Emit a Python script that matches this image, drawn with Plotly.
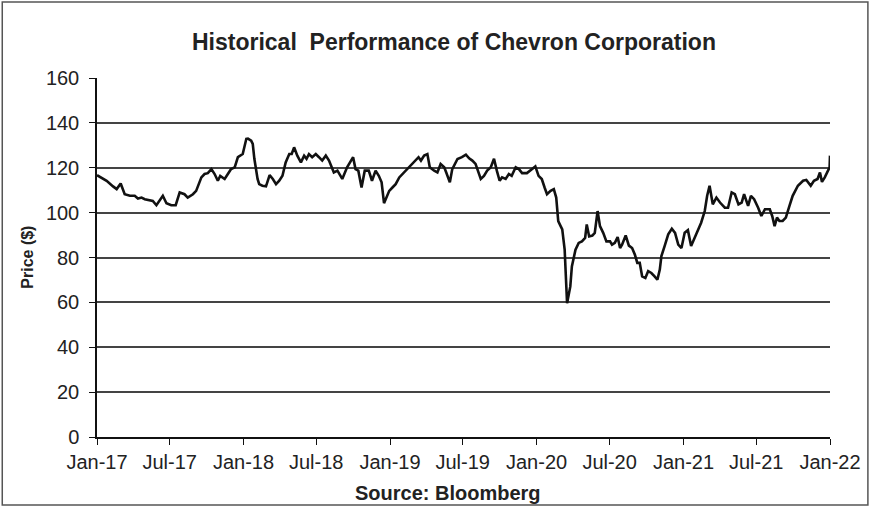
import plotly.graph_objects as go

dates = [
    "2017-01-01","2017-01-25","2017-02-10","2017-02-19","2017-03-01","2017-03-11","2017-03-24","2017-04-05",
    "2017-04-13","2017-04-22","2017-04-30","2017-05-12","2017-05-20","2017-05-29","2017-06-08","2017-06-14",
    "2017-06-23","2017-07-05","2017-07-16","2017-07-26","2017-08-07","2017-08-15","2017-08-28","2017-09-05",
    "2017-09-18","2017-09-26","2017-10-04","2017-10-13","2017-10-21","2017-10-29","2017-11-04","2017-11-15",
    "2017-11-23","2017-12-01","2017-12-10","2017-12-18","2017-12-30","2018-01-08","2018-01-12","2018-01-20",
    "2018-01-24","2018-01-28","2018-02-05","2018-02-09","2018-02-17","2018-02-26","2018-03-07","2018-03-15",
    "2018-03-23","2018-03-31","2018-04-08","2018-04-16","2018-04-25","2018-05-01","2018-05-07","2018-05-15",
    "2018-05-24","2018-06-01","2018-06-07","2018-06-13","2018-06-21","2018-06-30","2018-07-08","2018-07-16",
    "2018-07-25","2018-08-02","2018-08-14","2018-08-23","2018-09-04","2018-09-16","2018-10-01","2018-10-07",
    "2018-10-14","2018-10-22","2018-10-30","2018-11-09","2018-11-17","2018-11-26","2018-12-04","2018-12-11",
    "2018-12-17","2018-12-23","2018-12-30","2019-01-07","2019-01-15","2019-01-24","2019-02-01","2019-02-08",
    "2019-02-18","2019-03-02","2019-03-13","2019-03-19","2019-03-27","2019-04-04","2019-04-10","2019-04-21",
    "2019-04-29","2019-05-07","2019-05-16","2019-05-21","2019-05-30","2019-06-05","2019-06-18","2019-06-29",
    "2019-07-09","2019-07-17","2019-07-25","2019-08-02","2019-08-15","2019-08-23","2019-08-31","2019-09-09",
    "2019-09-17","2019-09-24","2019-10-01","2019-10-07","2019-10-16","2019-10-24","2019-10-31","2019-11-10",
    "2019-11-18","2019-11-26","2019-12-08","2019-12-21","2019-12-29","2020-01-06","2020-01-14","2020-01-21",
    "2020-01-27","2020-02-05","2020-02-13","2020-02-19","2020-02-24","2020-03-01","2020-03-05","2020-03-11",
    "2020-03-17","2020-03-25","2020-03-29","2020-04-07","2020-04-15","2020-04-23","2020-05-01","2020-05-05",
    "2020-05-11","2020-05-19","2020-05-25","2020-06-01","2020-06-07","2020-06-15","2020-06-23","2020-07-02",
    "2020-07-07","2020-07-14","2020-07-21","2020-07-27","2020-08-01","2020-08-10","2020-08-18","2020-08-26",
    "2020-09-02","2020-09-08","2020-09-14","2020-09-20","2020-09-28","2020-10-05","2020-10-13","2020-10-21",
    "2020-10-28","2020-11-03","2020-11-07","2020-11-15","2020-11-24","2020-12-03","2020-12-11","2020-12-19",
    "2020-12-27","2021-01-04","2021-01-12","2021-01-20","2021-01-29","2021-02-06","2021-02-14","2021-02-23",
    "2021-03-01","2021-03-07","2021-03-15","2021-03-24","2021-04-02","2021-04-14","2021-04-22","2021-05-01",
    "2021-05-09","2021-05-18","2021-05-26","2021-06-01","2021-06-11","2021-06-18","2021-06-26","2021-07-06",
    "2021-07-14","2021-07-23","2021-08-04","2021-08-10","2021-08-16","2021-08-22","2021-08-28","2021-09-05",
    "2021-09-13","2021-09-22","2021-09-30","2021-10-13","2021-10-26","2021-11-03","2021-11-14","2021-11-22",
    "2021-12-01","2021-12-07","2021-12-12","2021-12-19","2021-12-25","2021-12-31","2022-01-01",
]

prices = [
    116.7,114.2,111.7,110.5,113.0,108.2,107.5,107.5,
    106.3,106.7,106.0,105.7,105.2,103.3,106.0,107.5,
    104.2,103.3,103.3,109.0,108.2,106.7,108.2,109.7,
    115.7,117.2,117.6,119.4,117.2,114.2,116.4,115.0,
    117.2,119.4,120.2,124.7,126.1,132.9,133.0,132.1,
    130.6,124.0,115.0,112.7,112.0,111.7,116.7,115.0,
    112.7,114.2,116.4,122.4,126.1,126.1,129.1,125.4,
    122.4,125.4,124.0,126.1,124.7,126.1,124.7,123.2,
    125.4,123.2,117.9,118.7,115.0,120.2,124.7,119.4,
    118.7,111.2,118.7,118.7,114.2,118.7,116.4,113.5,
    104.2,106.7,109.7,111.2,112.7,115.7,117.2,118.7,
    120.2,122.4,124.7,123.2,125.4,126.1,120.2,118.7,
    117.9,121.7,120.2,117.9,113.5,119.4,123.9,124.7,
    125.8,124.2,123.2,121.7,115.0,116.4,118.7,120.2,
    124.0,118.7,114.2,115.7,115.0,117.2,116.4,120.2,
    119.4,117.6,117.6,119.4,120.6,116.4,115.0,111.2,
    108.2,109.7,110.5,106.7,96.2,94.0,92.5,83.5,
    59.6,67.0,76.0,83.5,86.5,87.2,88.7,94.7,
    89.4,89.8,91.0,100.7,94.0,91.0,87.2,87.2,
    85.7,86.5,89.1,84.2,85.7,89.8,85.3,84.2,
    81.2,77.6,77.6,71.6,70.9,73.9,73.1,71.6,
    70.1,74.6,80.6,85.1,90.3,92.8,91.0,85.7,
    84.2,91.0,92.2,85.1,88.8,92.5,95.5,100.7,
    107.5,112.0,103.7,106.7,104.5,102.2,102.2,109.0,
    108.2,103.7,104.5,108.2,103.0,107.5,106.0,102.2,
    98.5,101.5,101.5,98.5,94.0,97.8,96.3,96.3,
    97.8,103.0,107.5,112.0,114.2,114.6,112.0,114.2,
    115.0,117.9,113.7,115.7,117.9,120.2,125.4,
]

title_text = "Historical  Performance of Chevron Corporation"
y_title = "Price ($)"
source_text = "Source: Bloomberg"
y_ticks = [0, 20, 40, 60, 80, 100, 120, 140, 160]

FONT = "Liberation Sans, Arial, sans-serif"
TXT = "#222222"

fig = go.Figure()
fig.add_trace(go.Scatter(
    x=dates, y=prices, mode="lines",
    line=dict(color="#111111", width=2.6),
    showlegend=False, hoverinfo="x+y",
))

fig.update_layout(
    width=873, height=508,
    margin=dict(l=97, r=41, t=78, b=71),
    paper_bgcolor="white", plot_bgcolor="white",
    font=dict(family=FONT, color=TXT, size=20),
    title=dict(text="<b>" + title_text + "</b>", x=0.52, xref="container", xanchor="center",
               y=1 - 42 / 508, yref="container", yanchor="middle",
               font=dict(family=FONT, size=23, color=TXT)),
    xaxis=dict(
        type="date", range=["2017-01-01", "2022-01-01"],
        tick0="2017-01-01", dtick="M6", tickformat="%b-%y",
        showgrid=False, zeroline=False,
        showline=True, linecolor="#111111", linewidth=1.5,
        ticks="outside", ticklen=6, tickcolor="#111111", tickwidth=1,
        tickfont=dict(family=FONT, size=20, color=TXT),
    ),
    yaxis=dict(
        range=[0, 160], tickvals=y_ticks,
        showgrid=True, gridcolor="#444444", gridwidth=1.5,
        zeroline=False,
        showline=True, linecolor="#111111", linewidth=1.5,
        ticks="outside", ticklen=6, tickcolor="#111111", tickwidth=1,
        tickfont=dict(family=FONT, size=20, color=TXT),
        ticklabelstandoff=6,
    ),
    annotations=[
        dict(text="<b>" + y_title + "</b>", xref="paper", yref="paper",
             x=(27 - 97) / 735, y=0.5, textangle=-90, showarrow=False,
             xanchor="center", yanchor="middle",
             font=dict(family=FONT, size=16, color=TXT)),
        dict(text="<b>" + source_text + "</b>", xref="paper", yref="paper",
             x=(449 - 97) / 735, y=(437 - 493) / 359, showarrow=False,
             xanchor="center", yanchor="middle",
             font=dict(family=FONT, size=20, color=TXT)),
    ],
    shapes=[
        dict(type="rect", xref="paper", yref="paper",
             x0=(2 - 97) / 735, x1=(870 - 97) / 735,
             y0=(437 - 505) / 359, y1=(437 - 2) / 359,
             line=dict(color="#555555", width=1.5), fillcolor="rgba(0,0,0,0)", layer="below"),
    ],
)

fig.write_html("out.html", config={"displayModeBar": False},
               post_script="document.body.style.margin='0px';document.body.style.overflow='hidden';")
